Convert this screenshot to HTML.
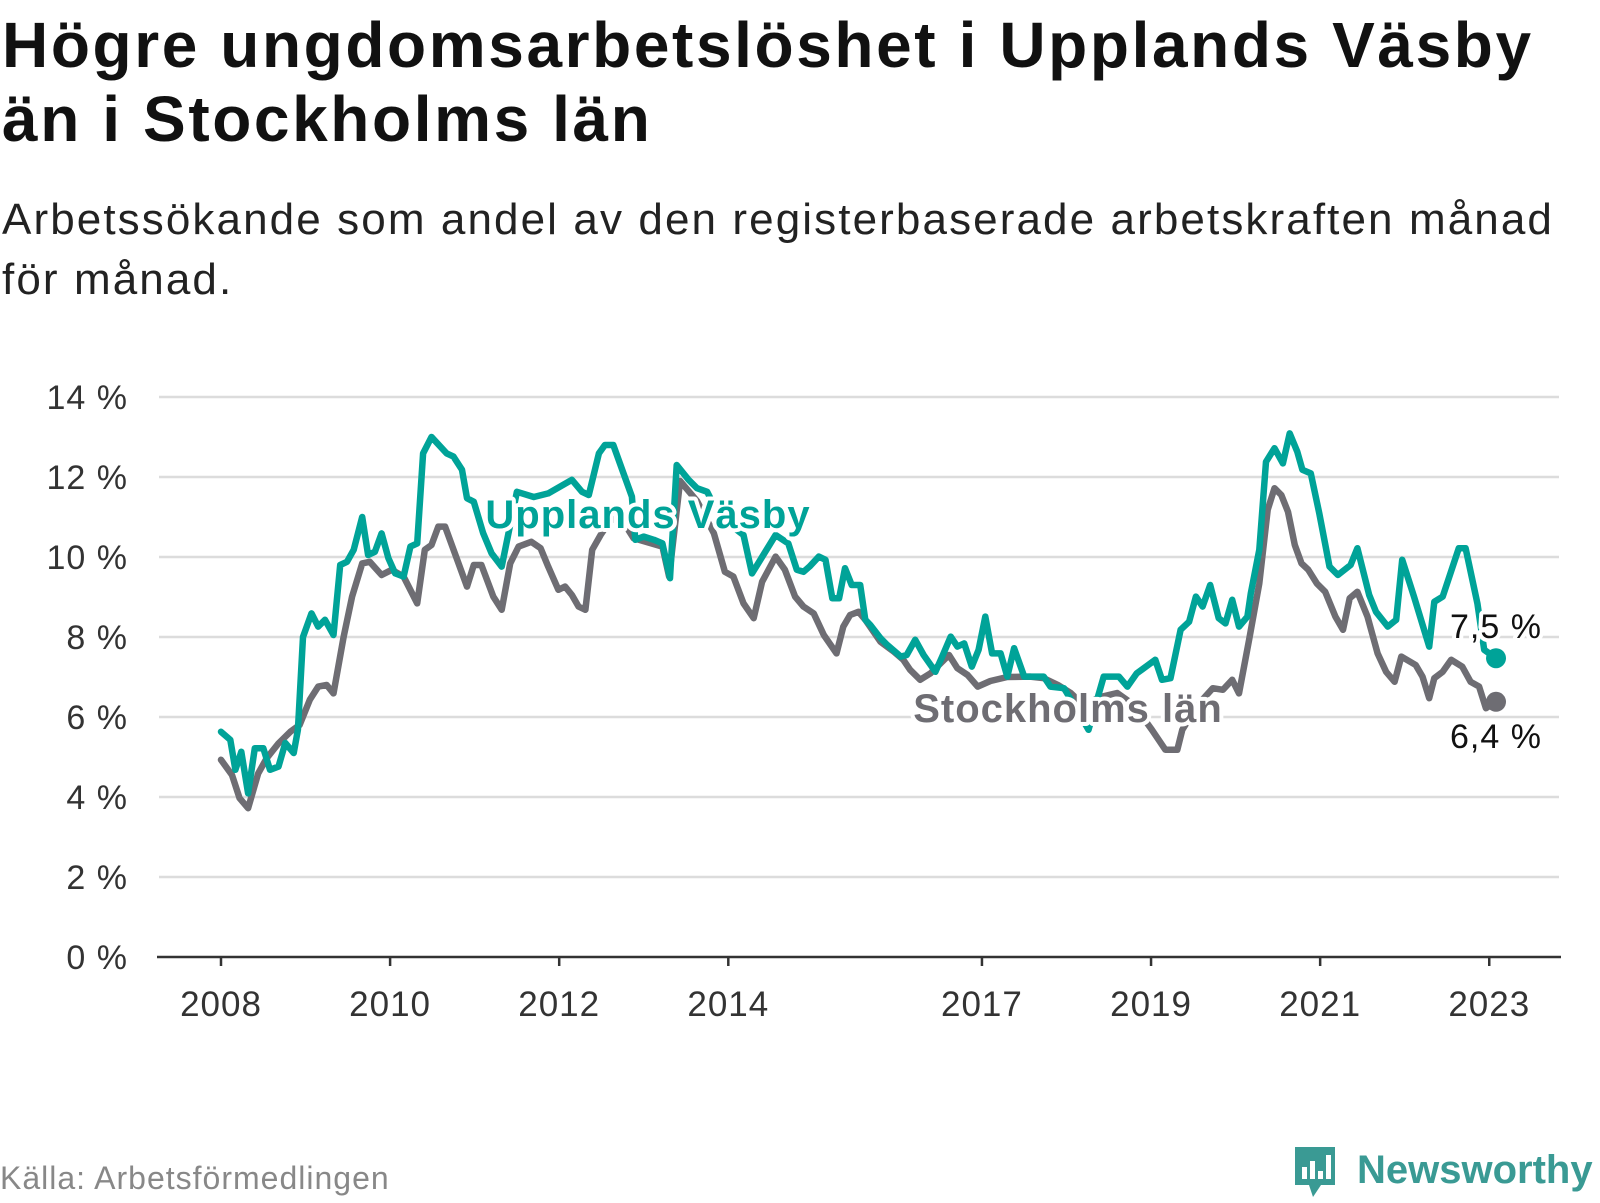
<!DOCTYPE html>
<html><head><meta charset="utf-8">
<style>
html,body{margin:0;padding:0;background:#fff;}
body{width:1600px;height:1200px;position:relative;overflow:hidden;font-family:"Liberation Sans",sans-serif;}
#title{position:absolute;left:2px;top:8px;margin:0;font-size:64px;letter-spacing:2.6px;line-height:74px;font-weight:bold;color:#111;white-space:nowrap;}
#subtitle{position:absolute;left:2px;top:190px;margin:0;font-size:44px;letter-spacing:2.1px;line-height:60px;color:#222;white-space:nowrap;}
#source{position:absolute;left:0;top:1160px;font-size:32px;letter-spacing:1px;color:#888;}
#logo{position:absolute;left:1293px;top:1143px;width:307px;height:60px;}
</style></head>
<body>
<h1 id="title">Högre ungdomsarbetslöshet i Upplands Väsby<br>än i Stockholms län</h1>
<p id="subtitle">Arbetssökande som andel av den registerbaserade arbetskraften månad<br>för månad.</p>
<svg id="chart" width="1600" height="1200" style="position:absolute;left:0;top:0" xmlns="http://www.w3.org/2000/svg"></svg>
<div id="source">Källa: Arbetsförmedlingen</div>
<svg id="logo" width="307" height="60" xmlns="http://www.w3.org/2000/svg">
<path d="M2 4 h40 v38 h-14 l-8 12 l-4 -12 h-14 z" fill="#3a9a94"/>
<rect x="9" y="24" width="5" height="12" fill="#fff"/><rect x="17" y="18" width="5" height="18" fill="#fff"/><rect x="25" y="28" width="5" height="8" fill="#fff"/><rect x="33" y="12" width="5" height="24" fill="#fff"/>
<text x="64" y="40" font-family="Liberation Sans, sans-serif" font-weight="bold" font-size="40" fill="#3a9a94">Newsworthy</text>
</svg>
<script>
const yTicks = [0,2,4,6,8,10,12,14];
const xTickYears = [2008,2010,2012,2014,2017,2019,2021,2023];
const vasbyDates = [2008.0,2008.11,2008.17,2008.24,2008.32,2008.40,2008.50,2008.58,2008.68,2008.76,2008.86,2008.91,2008.97,2009.07,2009.15,2009.23,2009.33,2009.41,2009.49,2009.57,2009.67,2009.74,2009.82,2009.90,2009.98,2010.06,2010.16,2010.24,2010.32,2010.39,2010.49,2010.67,2010.75,2010.85,2010.91,2010.99,2011.10,2011.20,2011.32,2011.50,2011.70,2011.87,2012.15,2012.27,2012.35,2012.47,2012.54,2012.64,2012.76,2012.86,2012.90,2013.0,2013.12,2013.22,2013.31,2013.39,2013.53,2013.63,2013.75,2013.90,2014.18,2014.28,2014.56,2014.71,2014.81,2014.89,2014.96,2015.07,2015.15,2015.23,2015.31,2015.38,2015.46,2015.56,2015.62,2015.68,2015.80,2015.88,2016.04,2016.11,2016.21,2016.31,2016.45,2016.53,2016.63,2016.71,2016.79,2016.88,2016.96,2017.04,2017.12,2017.22,2017.30,2017.38,2017.50,2017.62,2017.73,2017.81,2017.97,2018.12,2018.26,2018.44,2018.62,2018.72,2018.83,2019.05,2019.13,2019.23,2019.35,2019.45,2019.53,2019.61,2019.70,2019.80,2019.88,2019.96,2020.04,2020.14,2020.18,2020.28,2020.36,2020.46,2020.56,2020.64,2020.73,2020.79,2020.89,2020.99,2021.11,2021.21,2021.36,2021.44,2021.58,2021.66,2021.80,2021.90,2021.97,2022.11,2022.29,2022.35,2022.45,2022.64,2022.72,2022.86,2022.94,2023.08];
const vasbyValues = [5.63,5.43,4.68,5.13,4.09,5.22,5.22,4.68,4.76,5.35,5.1,5.68,8.0,8.59,8.26,8.43,8.05,9.8,9.88,10.18,11.0,10.05,10.13,10.59,9.97,9.59,9.51,10.26,10.34,12.59,13.0,12.59,12.51,12.18,11.47,11.38,10.6,10.09,9.76,11.63,11.5,11.59,11.93,11.63,11.55,12.59,12.8,12.8,12.09,11.51,10.43,10.51,10.43,10.34,9.47,12.3,11.93,11.72,11.63,11.0,10.55,9.59,10.55,10.34,9.68,9.63,9.76,10.01,9.93,8.97,8.97,9.72,9.3,9.3,8.43,8.3,7.97,7.8,7.51,7.55,7.93,7.55,7.13,7.51,8.01,7.76,7.84,7.26,7.68,8.51,7.59,7.59,7.01,7.72,7.01,7.01,7.01,6.76,6.72,6.2,5.68,7.01,7.01,6.76,7.09,7.43,6.93,6.97,8.18,8.38,9.01,8.76,9.3,8.47,8.34,8.93,8.26,8.51,9.09,10.18,12.38,12.72,12.34,13.09,12.63,12.18,12.09,11.09,9.76,9.55,9.8,10.22,9.05,8.63,8.26,8.43,9.93,9.01,7.76,8.88,9.01,10.22,10.22,8.84,7.68,7.47];
const sthlmDates = [2008.0,2008.13,2008.22,2008.32,2008.44,2008.54,2008.68,2008.82,2008.93,2009.05,2009.15,2009.25,2009.33,2009.45,2009.55,2009.67,2009.76,2009.90,2010.02,2010.16,2010.32,2010.41,2010.49,2010.57,2010.65,2010.91,2010.99,2011.08,2011.22,2011.32,2011.42,2011.52,2011.67,2011.78,2011.87,2011.99,2012.07,2012.15,2012.23,2012.31,2012.39,2012.49,2012.60,2012.72,2012.88,2013.22,2013.30,2013.43,2013.63,2013.83,2013.96,2014.06,2014.18,2014.30,2014.40,2014.56,2014.67,2014.79,2014.89,2015.01,2015.13,2015.28,2015.36,2015.44,2015.54,2015.62,2015.80,2015.96,2016.07,2016.15,2016.27,2016.39,2016.61,2016.71,2016.83,2016.95,2017.1,2017.3,2017.57,2017.73,2017.9,2018.05,2018.2,2018.4,2018.6,2018.8,2019.01,2019.17,2019.31,2019.37,2019.55,2019.73,2019.85,2019.96,2020.04,2020.16,2020.28,2020.38,2020.46,2020.54,2020.62,2020.70,2020.78,2020.86,2020.96,2021.06,2021.18,2021.27,2021.35,2021.44,2021.56,2021.68,2021.78,2021.88,2021.96,2022.13,2022.21,2022.29,2022.35,2022.45,2022.55,2022.68,2022.78,2022.88,2022.96,2023.08];
const sthlmValues = [4.93,4.55,3.97,3.72,4.59,4.97,5.34,5.63,5.8,6.43,6.76,6.8,6.59,8.0,9.01,9.84,9.88,9.55,9.68,9.51,8.84,10.18,10.3,10.76,10.76,9.26,9.8,9.8,9.01,8.68,9.84,10.26,10.38,10.22,9.76,9.18,9.26,9.05,8.76,8.68,10.18,10.55,10.9,11.0,10.47,10.26,9.51,11.9,11.4,10.59,9.63,9.51,8.84,8.47,9.38,10.01,9.68,9.01,8.76,8.59,8.05,7.59,8.26,8.55,8.63,8.43,7.88,7.63,7.43,7.18,6.93,7.09,7.55,7.22,7.05,6.76,6.9,7.0,7.01,6.97,6.8,6.6,6.3,6.5,6.6,6.3,5.68,5.18,5.18,5.68,6.3,6.72,6.68,6.93,6.59,7.93,9.34,11.18,11.72,11.55,11.13,10.3,9.84,9.68,9.34,9.13,8.51,8.18,8.97,9.13,8.51,7.59,7.13,6.88,7.51,7.3,7.01,6.47,6.97,7.13,7.43,7.26,6.88,6.76,6.22,6.38];
const endLabels = ["7,5 %","6,4 %"];

const NS="http://www.w3.org/2000/svg";
const svg=document.getElementById('chart');
const X0=221, PXY=84.55, Y0=957, PXV=40;
function xs(yr){return X0+(yr-2008)*PXY;}
function ys(v){return Y0-v*PXV;}
function mk(tag,attrs,parent){const e=document.createElementNS(NS,tag);for(const k in attrs)e.setAttribute(k,attrs[k]);(parent||svg).appendChild(e);return e;}
const FONT='"Liberation Sans", sans-serif';

yTicks.forEach(v=>{
  if(v>0){const g=mk('line',{x1:159,x2:1559,y1:ys(v),y2:ys(v),stroke:'#dcdcdc','stroke-width':2.5});
  
  }
  const t=mk('text',{x:128,y:ys(v)+12,'text-anchor':'end','font-size':34,'letter-spacing':1,fill:'#333','font-family':FONT});
  t.textContent=v+' %';
  
  
});
const ax=mk('line',{x1:157,x2:1561,y1:Y0,y2:Y0,stroke:'#333','stroke-width':2.5});


xTickYears.forEach(yr=>{
  const tk=mk('line',{x1:xs(yr),x2:xs(yr),y1:Y0,y2:Y0+9,stroke:'#333','stroke-width':2.5});
  
  
  const t=mk('text',{x:xs(yr),y:1016,'text-anchor':'middle','font-size':35,'letter-spacing':1,fill:'#333','font-family':FONT});
  t.textContent=yr;
  
  
});
function line(dates,vals,color,name){
  const d=dates.map((t,i)=>(i?'L':'M')+xs(t).toFixed(1)+' '+ys(vals[i]).toFixed(1)).join(' ');
  const p=mk('path',{d:d,fill:'none',stroke:color,'stroke-width':6.5,'stroke-linejoin':'round','stroke-linecap':'round'});
  
  
  const n=dates.length-1;
  const c=mk('circle',{cx:xs(dates[n]),cy:ys(vals[n]),r:10,fill:color});
  
  
  return c;
}
line(sthlmDates,sthlmValues,'#6e6d73','stockholm-line');
line(vasbyDates,vasbyValues,'#00a398','vasby-line');
function lab(txt,x,y,color,size,bold,name){
  const t=mk('text',{x:x,y:y,'text-anchor':'middle','font-size':size,'letter-spacing':1,fill:color,'font-family':FONT,'font-weight':bold?'bold':'normal',stroke:'#fff','stroke-width':8,'paint-order':'stroke','stroke-linejoin':'round'});
  t.textContent=txt;
  
  
}
lab('Upplands Väsby',648,528,'#00a398',40,true,'vasby-series-label');
lab('Stockholms län',1068,722,'#6e6d73',40,true,'stockholm-series-label');
const lv=vasbyValues[vasbyValues.length-1], ls=sthlmValues[sthlmValues.length-1];
lab(endLabels[0],1496,ys(lv)-20,'#111',34,false,'vasby-end-value');
lab(endLabels[1],1496,ys(ls)+46,'#111',34,false,'stockholm-end-value');
</script>
</body></html>
